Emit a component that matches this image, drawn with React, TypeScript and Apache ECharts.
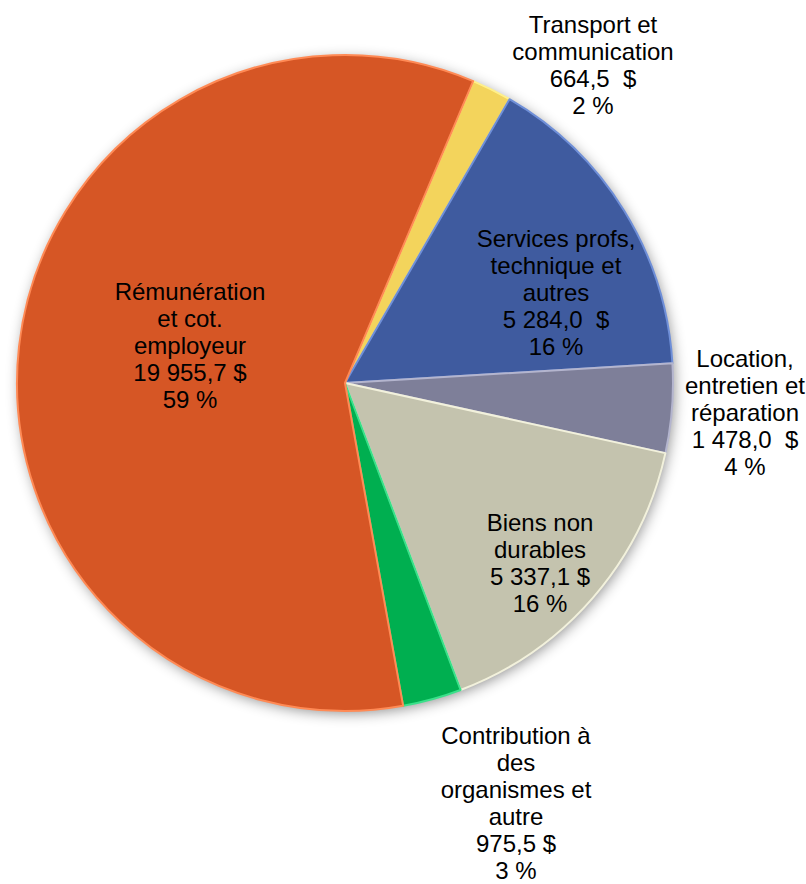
import React, { useEffect, useRef } from "react";
import * as echarts from "echarts";

const categories = [
  "Transport et\ncommunication",
  "Services profs,\ntechnique et\nautres",
  "Location,\nentretien et\nréparation",
  "Biens non\ndurables",
  "Contribution à\ndes\norganismes et\nautre",
  "Rémunération\net cot.\nemployeur",
];
const values = [664.5, 5284.0, 1478.0, 5337.1, 975.5, 19955.7];
const amountLabels = ["664,5  $", "5 284,0  $", "1 478,0  $", "5 337,1 $", "975,5 $", "19 955,7 $"];
const percentLabels = ["2 %", "16 %", "4 %", "16 %", "3 %", "59 %"];
const colors = ["#F3D45C", "#3F5B9F", "#7E7F99", "#C4C3AE", "#00AF50", "#D65625"];
const borderColors = ["#FFF08A", "#6F8FD8", "#B4B5CE", "#F2F1DC", "#3BE08A", "#FF8A55"];
const labelPos = [
  [593, 65],
  [556, 292],
  [745, 412],
  [540, 563],
  [516, 803],
  [190, 345],
];

export default function App() {
  const ref = useRef<HTMLDivElement>(null);
  useEffect(() => {
    if (!ref.current) return;
    const chart = echarts.init(ref.current, null, { renderer: "svg" });
    chart.setOption({
      animation: false,
      backgroundColor: "#ffffff",
      graphic: [
        {
          type: "circle",
          z: -1,
          shape: { cx: 345, cy: 383, r: 327 },
          style: {
            fill: "#d0d0d0",
            shadowBlur: 14,
            shadowColor: "rgba(0,0,0,0.45)",
            shadowOffsetX: 2,
            shadowOffsetY: 3,
          },
        },
      ],
      series: [
        {
          type: "pie",
          center: [345, 383],
          radius: [0, 328],
          startAngle: 67,
          clockwise: true,
          avoidLabelOverlap: false,
          labelLine: { show: false },
          data: values.map((v, i) => ({
            name: categories[i],
            value: v,
            itemStyle: {
              color: colors[i],
              borderColor: borderColors[i],
              borderWidth: 2,
            },
          })),
          label: {
            show: true,
            position: "inside",
            color: "#000",
            fontFamily: "Liberation Sans, Arial, sans-serif",
            fontSize: 24,
            lineHeight: 27,
            align: "center",
            formatter: (p: any) =>
              `${categories[p.dataIndex]}\n${amountLabels[p.dataIndex]}\n${percentLabels[p.dataIndex]}`,
          },
          labelLayout: (p: any) => ({
            x: labelPos[p.dataIndex][0],
            y: labelPos[p.dataIndex][1],
            align: "center",
            verticalAlign: "middle",
          }),
        },
      ],
    });
    return () => chart.dispose();
  }, []);
  return (
    <div
      ref={ref}
      style={{ position: "fixed", left: 0, top: 0, width: 806, height: 884 }}
    />
  );
}
